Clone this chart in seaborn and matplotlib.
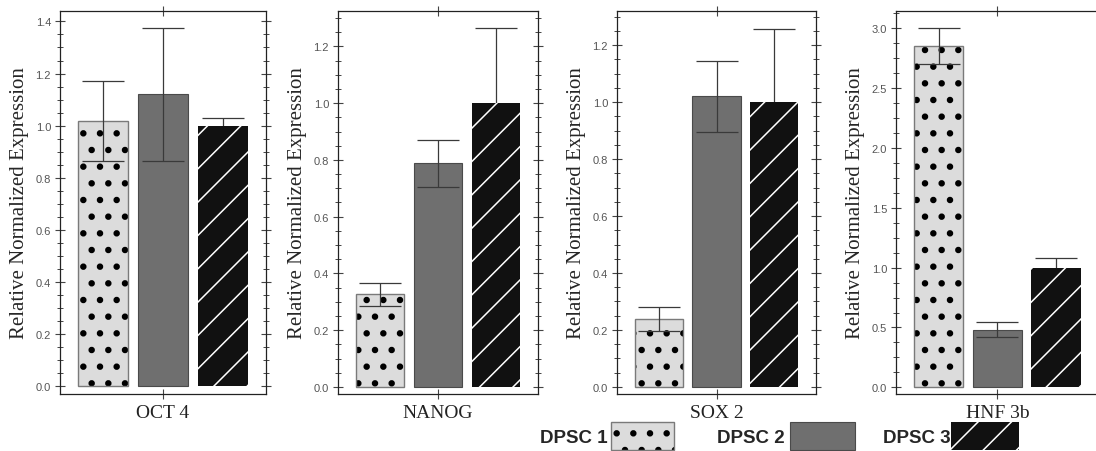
import pandas as pd
import matplotlib
matplotlib.use("Agg")
import matplotlib.pyplot as plt
import matplotlib.patches as mpatches
from matplotlib.legend_handler import HandlerTuple
from matplotlib.ticker import MultipleLocator, NullLocator
import seaborn as sns

# data
genes = ["OCT 4", "NANOG", "SOX 2", "HNF 3b"]
samples = ["DPSC 1", "DPSC 2", "DPSC 3"]

oct4_mean = [1.018, 1.12, 1.0]
oct4_err = [0.155, 0.255, 0.03]
nanog_mean = [0.326, 0.788, 1.0]
nanog_err = [0.04, 0.082, 0.264]
sox2_mean = [0.239, 1.02, 1.0]
sox2_err = [0.043, 0.126, 0.257]
hnf3b_mean = [2.852, 0.48, 1.0]
hnf3b_err = [0.147, 0.063, 0.08]

means = [oct4_mean, nanog_mean, sox2_mean, hnf3b_mean]
errs = [oct4_err, nanog_err, sox2_err, hnf3b_err]

# layout / style
W, H = 1096, 452
lefts = [60, 338, 617, 896]
rights = [266, 538, 816, 1100]
ylims = [(-0.03, 1.44), (-0.025, 1.325), (-0.025, 1.32), (-0.056, 3.145)]
majors = [0.2, 0.2, 0.2, 0.5]
minors = [0.05, 0.05, 0.05, 0.125]
face_colors = ["#dcdcdc", "#6f6f6f", "#111111"]
serif = ["Liberation Serif", "DejaVu Serif"]

sns.set_theme(style="ticks")
plt.rcParams["font.family"] = ["Liberation Sans", "DejaVu Sans"]


def set_hlw(p, lw):
    if hasattr(p, "set_hatch_linewidth"):
        p.set_hatch_linewidth(lw)


fig = plt.figure(figsize=(W / 100, H / 100), dpi=100)

for i, gene in enumerate(genes):
    l, r = lefts[i], rights[i]
    ax = fig.add_axes([l / W, 1 - 395 / H, (r - l) / W, 383 / H])
    df = pd.DataFrame({"sample": samples, "value": means[i]})
    with plt.rc_context({"hatch.linewidth": 2.2}):
        sns.barplot(data=df, x="sample", y="value", hue="sample", order=samples,
                    hue_order=samples, palette=face_colors, width=0.84, saturation=1,
                    errorbar=None, legend=False, ax=ax)

    bar_conts = list(ax.containers)
    for j, cont in enumerate(bar_conts):
        for bar in cont:
            cx = bar.get_x() + bar.get_width() / 2
            if j == 0:
                bar.set_edgecolor("black")
                bar.set_linewidth(0)
                bar.set_hatch(".")
                set_hlw(bar, 2.2)
                ax.add_patch(mpatches.Rectangle(bar.get_xy(), bar.get_width(), bar.get_height(),
                                                fill=False, edgecolor="#7a7a7a", lw=1.0, zorder=3))
            elif j == 1:
                bar.set_edgecolor("#4a4a4a")
                bar.set_linewidth(0.8)
            else:
                bar.set_edgecolor("white")
                bar.set_linewidth(0)
                bar.set_hatch("/")
                set_hlw(bar, 1.1)
            # the black bar hides the lower half of its error bar
            ax.errorbar([cx], [means[i][j]], yerr=[errs[i][j]], fmt="none", ecolor="#3a3a3a",
                        elinewidth=0.9, capsize=15, capthick=0.9,
                        zorder=0.5 if j == 2 else 5)

    ax.set_xlim(-0.73, 2.73 if i < 3 else 2.75)
    ax.set_ylim(*ylims[i])
    ax.yaxis.set_major_locator(MultipleLocator(majors[i]))
    ax.yaxis.set_minor_locator(MultipleLocator(minors[i]))
    ax.xaxis.set_minor_locator(NullLocator())
    ax.set_xticks([1], [gene])
    ax.set_xlabel("")
    ax.set_ylabel("Relative Normalized Expression", fontfamily=serif, fontsize=15, labelpad=5)

    ax.tick_params(axis="both", which="both", direction="inout", top=True, right=(i < 3),
                   color="#444444")
    ax.tick_params(which="major", length=7, width=0.8)
    ax.tick_params(which="minor", length=4, width=0.7)
    ax.tick_params(axis="y", labelsize=8, labelcolor="#555555", pad=3)
    ax.tick_params(axis="x", labelsize=14, labelcolor="#222222", pad=4)
    for lab in ax.get_xticklabels():
        lab.set_fontfamily(serif)
    for sp in ax.spines.values():
        sp.set_color("#222222")
        sp.set_linewidth(0.9)

# legend: three entries, text followed by swatch
leg_font = {"family": "Liberation Sans", "weight": "bold", "size": 13.5}
leg_x = [540, 717, 883]
leg_len = [3.36, 3.47, 3.6]
leg_pad = [0.16, 0.27, 0.02]
for j, name in enumerate(samples):
    hlw = 2.2 if j == 0 else 1.1
    with plt.rc_context({"hatch.linewidth": hlw}):
        if j == 0:
            dots = mpatches.Patch(facecolor=face_colors[0], edgecolor="black", lw=0, hatch=".")
            set_hlw(dots, 2.2)
            edge = mpatches.Patch(fill=False, edgecolor="#7a7a7a", lw=1.0)
            handle = (dots, edge)
        elif j == 1:
            handle = mpatches.Patch(facecolor=face_colors[1], edgecolor="#4a4a4a", lw=0.8)
        else:
            handle = mpatches.Patch(facecolor=face_colors[2], edgecolor="white", lw=0, hatch="/")
            set_hlw(handle, 1.1)
        fig.legend([handle], [name], loc="center left",
                   bbox_to_anchor=(leg_x[j] / W, 1 - 437 / H), frameon=False,
                   markerfirst=False, prop=leg_font, handlelength=leg_len[j],
                   handleheight=2.0, handletextpad=leg_pad[j], borderpad=0,
                   borderaxespad=0, handler_map={tuple: HandlerTuple(ndivide=1)})

fig.savefig("out.png", dpi=100)
